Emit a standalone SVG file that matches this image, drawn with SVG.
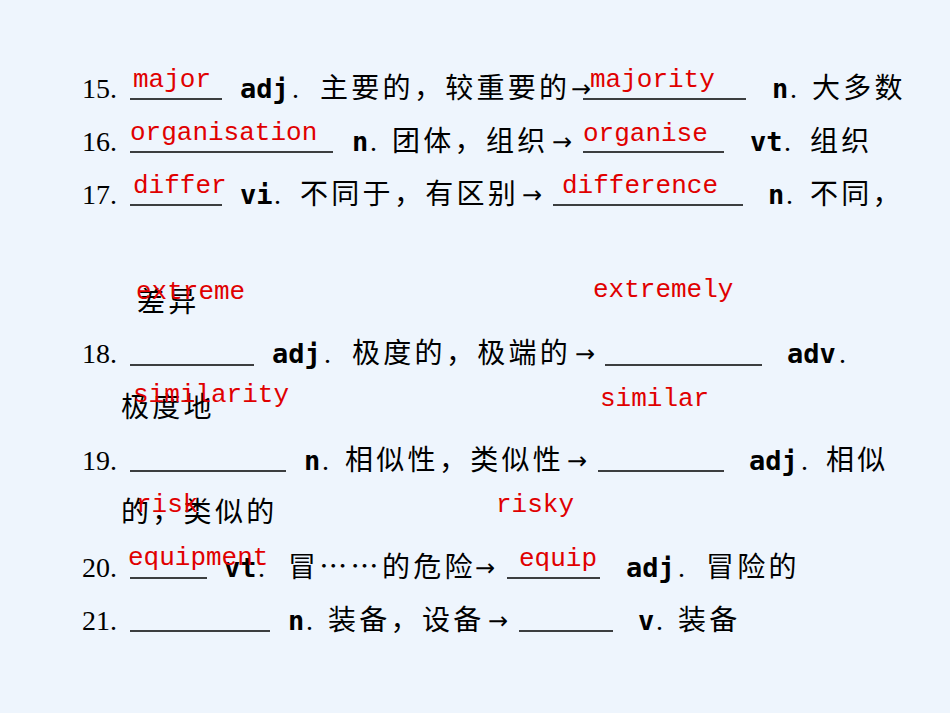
<svg xmlns="http://www.w3.org/2000/svg" width="950" height="713" viewBox="0 0 950 713">
<style>
.n{font-family:"Liberation Serif",serif;font-size:28px;fill:#000}
.c{font-family:"Noto Sans CJK SC",sans-serif;font-size:28px;letter-spacing:3.3px;fill:#000}
.b{font-family:"DejaVu Sans Mono",monospace;font-weight:bold;font-size:27px;fill:#000}
.r{font-family:"Liberation Mono","DejaVu Sans Mono",monospace;font-size:26px;fill:#e00000}
.u{stroke:#000;stroke-width:1.5}
.a{font-family:"DejaVu Sans",sans-serif;font-size:24px;fill:#000}
</style>
<rect width="950" height="713" fill="#eef5fd"/>
<g id="underlines">
<line class="u" x1="130" y1="99" x2="222" y2="99"/><line class="u" x1="583" y1="99" x2="746" y2="99"/>
<line class="u" x1="130" y1="152" x2="333" y2="152"/><line class="u" x1="583" y1="152" x2="724" y2="152"/>
<line class="u" x1="130" y1="205" x2="222" y2="205"/><line class="u" x1="553" y1="205" x2="743" y2="205"/>
<line class="u" x1="130" y1="365" x2="254" y2="365"/><line class="u" x1="605" y1="365" x2="762" y2="365"/>
<line class="u" x1="130" y1="471" x2="286" y2="471"/><line class="u" x1="598" y1="471" x2="724" y2="471"/>
<line class="u" x1="130" y1="578" x2="207" y2="578"/><line class="u" x1="507" y1="578" x2="600" y2="578"/>
<line class="u" x1="130" y1="631" x2="270" y2="631"/><line class="u" x1="519" y1="631" x2="613" y2="631"/>
</g>
<g id="row15"><text class="n" x="82" y="98">15.</text><text class="b" x="240" y="98">adj</text><text class="n" x="292" y="98">.</text><text class="c" x="320" y="98">主要的，较重要的</text><text class="a" x="571" y="97">→</text><text class="b" x="772" y="98">n</text><text class="n" x="790" y="98">.</text><text class="c" x="812" y="98">大多数</text></g>
<g id="row16"><text class="n" x="82" y="151">16.</text><text class="b" x="352" y="151">n</text><text class="n" x="370" y="151">.</text><text class="c" x="392" y="151">团体，组织</text><text class="a" x="552" y="150">→</text><text class="b" x="750" y="151">vt</text><text class="n" x="784" y="151">.</text><text class="c" x="810" y="151">组织</text></g>
<g id="row17"><text class="n" x="82" y="204">17.</text><text class="b" x="240" y="204">vi</text><text class="n" x="274" y="204">.</text><text class="c" x="300" y="204">不同于，有区别</text><text class="a" x="522" y="203">→</text><text class="b" x="768" y="204">n</text><text class="n" x="786" y="204">.</text><text class="c" x="810" y="204">不同，</text></g>
<g id="row17b"><text class="c" x="137" y="312">差异</text></g>
<g id="row18"><text class="n" x="82" y="363">18.</text><text class="b" x="272" y="363">adj</text><text class="n" x="324" y="363">.</text><text class="c" x="352" y="363">极度的，极端的</text><text class="a" x="575" y="362">→</text><text class="b" x="787" y="363">adv</text><text class="n" x="839" y="363">.</text></g>
<g id="row18b"><text class="c" x="121" y="417">极度地</text></g>
<g id="row19"><text class="n" x="82" y="470">19.</text><text class="b" x="304" y="470">n</text><text class="n" x="322" y="470">.</text><text class="c" x="345" y="470">相似性，类似性</text><text class="a" x="567" y="469">→</text><text class="b" x="749" y="470">adj</text><text class="n" x="801" y="470">.</text><text class="c" x="826" y="470">相似</text></g>
<g id="row19b"><text class="c" x="121" y="522">的，类似的</text></g>
<g id="row20"><text class="n" x="82" y="577">20.</text><text class="b" x="224" y="577">vt</text><text class="n" x="258" y="577">.</text><text class="c" x="288" y="577">冒……的危险</text><text class="a" x="475" y="576">→</text><text class="b" x="626" y="577">adj</text><text class="n" x="678" y="577">.</text><text class="c" x="706" y="577">冒险的</text></g>
<g id="row21"><text class="n" x="82" y="630">21.</text><text class="b" x="288" y="630">n</text><text class="n" x="306" y="630">.</text><text class="c" x="328" y="630">装备，设备</text><text class="a" x="488" y="629">→</text><text class="b" x="638" y="630">v</text><text class="n" x="656" y="630">.</text><text class="c" x="678" y="630">装备</text></g>
<g id="answers">
<text class="r" x="133" y="87">major</text><text class="r" x="590" y="87">majority</text>
<text class="r" x="130" y="140">organisation</text><text class="r" x="583" y="141">organise</text>
<text class="r" x="133" y="193">differ</text><text class="r" x="562" y="193">difference</text>
<text class="r" x="136" y="299">extreme</text><text class="r" x="593" y="297">extremely</text>
<text class="r" x="133" y="402">similarity</text><text class="r" x="600" y="406">similar</text>
<text class="r" x="136" y="512">risk</text><text class="r" x="496" y="512">risky</text>
<text class="r" x="128" y="565">equipment</text><text class="r" x="519" y="566">equip</text>
</g>
</svg>
